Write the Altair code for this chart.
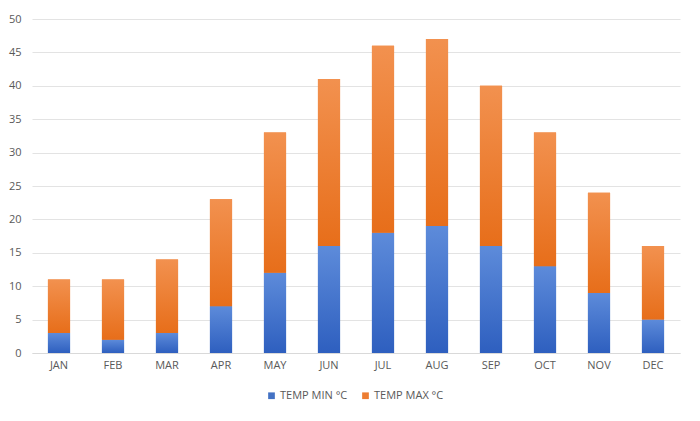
import altair as alt
import pandas as pd

months = ["JAN", "FEB", "MAR", "APR", "MAY", "JUN", "JUL", "AUG", "SEP", "OCT", "NOV", "DEC"]
temp_min = [3, 2, 3, 7, 12, 16, 18, 19, 16, 13, 9, 5]
temp_max = [8, 9, 11, 16, 21, 25, 28, 28, 24, 20, 15, 11]
series = ["TEMP MIN °C", "TEMP MAX °C"]
series_colors = ["#4472C4", "#ED7D31"]
y_ticks = list(range(0, 55, 5))

wide = pd.DataFrame({"month": months, "tmin": temp_min, "tmax": temp_max})
wide["top"] = wide["tmin"] + wide["tmax"]
long = pd.concat([
    pd.DataFrame({"month": months, "series": series[0], "value": temp_min, "ord": 0}),
    pd.DataFrame({"month": months, "series": series[1], "value": temp_max, "ord": 1}),
])

FONT = "Open Sans"
GREY = "#595959"

x_axis = alt.Axis(labelAngle=0, ticks=False, domainColor="#d9d9d9",
                  labelColor=GREY, labelFont=FONT, labelFontSize=11,
                  labelPadding=6, grid=False)
y_axis = alt.Axis(values=y_ticks, domain=False, ticks=False, gridColor="#e3e3e3",
                  labelOverlap=False, labelColor=GREY, labelFont=FONT,
                  labelFontSize=11, labelPadding=11)
x_scale = alt.Scale(paddingInner=0.59, paddingOuter=0.295)
y_scale = alt.Scale(domain=[0, 50], nice=False)

legend_layer = alt.Chart(long).mark_bar().encode(
    x=alt.X("month:N", sort=months, title=None, scale=x_scale, axis=x_axis),
    y=alt.Y("value:Q", stack="zero", scale=y_scale, title=None, axis=y_axis),
    color=alt.Color("series:N", sort=series,
                    scale=alt.Scale(domain=series, range=series_colors),
                    legend=alt.Legend(orient="none", legendX=234, legendY=371,
                                      direction="horizontal", title=None,
                                      symbolType="square", symbolSize=45,
                                      labelFont=FONT, labelFontSize=11,
                                      labelColor=GREY, columnPadding=12,
                                      labelOffset=3, symbolStrokeWidth=0)),
    order=alt.Order("ord:Q"),
)

blue_grad = alt.LinearGradient(
    gradient="linear", x1=0, x2=0, y1=0, y2=1,
    stops=[alt.GradientStop(color="#5D8BDA", offset=0),
           alt.GradientStop(color="#2E5FBF", offset=1)])
orange_grad = alt.LinearGradient(
    gradient="linear", x1=0, x2=0, y1=0, y2=1,
    stops=[alt.GradientStop(color="#F2914F", offset=0),
           alt.GradientStop(color="#E76E1A", offset=1)])

blue_layer = alt.Chart(wide).mark_bar(color=blue_grad).encode(
    x=alt.X("month:N", sort=months, title=None, scale=x_scale, axis=x_axis),
    y=alt.Y("tmin:Q", scale=y_scale, title=None, axis=y_axis),
)
orange_layer = alt.Chart(wide).mark_bar(color=orange_grad).encode(
    x=alt.X("month:N", sort=months, title=None, scale=x_scale, axis=x_axis),
    y=alt.Y("tmin:Q", scale=y_scale, title=None, axis=y_axis),
    y2="top:Q",
)

chart = alt.layer(legend_layer, blue_layer, orange_layer).properties(
    width=648, height=334,
    autosize=alt.AutoSizeParams(type="none"),
    padding={"left": 24, "top": 11, "right": 12, "bottom": 60},
    background="white",
).configure_view(stroke="transparent", strokeWidth=0)

chart.save("out.html", embed_options={"renderer": "svg", "actions": False})
